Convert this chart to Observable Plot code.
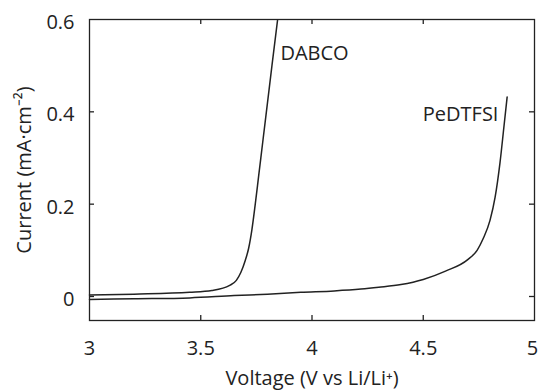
<!DOCTYPE html>
<html><head><meta charset="utf-8">
<script src="https://cdn.jsdelivr.net/npm/d3@7"></script>
<script src="https://cdn.jsdelivr.net/npm/@observablehq/plot@0.6"></script>
<style>body{margin:0;background:#fff}</style>
</head><body><div id="chart"></div>
<script>
// DABCO curve
const dabcoV = [3.0, 3.2, 3.45, 3.55, 3.63, 3.66, 3.68, 3.70, 3.715, 3.73, 3.745, 3.76, 3.78, 3.80, 3.82, 3.845];
const dabcoI = [0.003, 0.005, 0.009, 0.013, 0.024, 0.035, 0.052, 0.078, 0.104, 0.145, 0.2, 0.26, 0.34, 0.42, 0.5, 0.598];
// PeDTFSI curve
const pedV = [3.0, 3.2, 3.45, 3.65, 3.8, 3.95, 4.1, 4.22, 4.3, 4.4, 4.5, 4.6, 4.7, 4.742, 4.77, 4.8, 4.823, 4.845, 4.862, 4.877];
const pedI = [-0.0065, -0.005, -0.003, 0.002, 0.005, 0.009, 0.012, 0.016, 0.02, 0.026, 0.037, 0.055, 0.08, 0.1, 0.126, 0.165, 0.215, 0.29, 0.365, 0.432];
// Labels
const seriesNames = ["DABCO", "PeDTFSI"];
const labelV = [3.858, 4.838];
const labelI = [0.527, 0.394];
// Ticks
const xTicks = [3, 3.5, 4, 4.5, 5];
const yTicks = [0, 0.2, 0.4, 0.6];
const xDomain = [3, 5];
const yDomain = [-0.052, 0.6];
const xLabel = "Voltage (V vs Li/Li⁺)";
const yLabel = "Current (mA·cm⁻²)";

const dabco = dabcoV.map((v, i) => ({v, c: dabcoI[i]}));
const ped = pedV.map((v, i) => ({v, c: pedI[i]}));
const labels = seriesNames.map((name, i) => ({name, v: labelV[i], c: labelI[i]}));

const W = 538, H = 392, mL = 89, mR = 4, mT = 19, mB = 72;
const frameW = W - mL - mR, frameH = H - mT - mB, tick = 5;
const ink = "#222";
const fs = 20;

const chart = Plot.plot({
  width: W, height: H,
  marginLeft: mL, marginRight: mR, marginTop: mT, marginBottom: mB,
  style: {fontFamily: "'Open Sans', sans-serif", fontSize: fs + "px", color: ink, background: "#fff"},
  x: {domain: xDomain},
  y: {domain: yDomain},
  marks: [
    Plot.frame({stroke: ink, strokeWidth: 1.3}),
    Plot.ruleX(xTicks.slice(1, -1), {insetTop: frameH - tick, stroke: ink, strokeWidth: 1.3}),
    Plot.ruleX(xTicks.slice(1, -1), {insetBottom: frameH - tick, stroke: ink, strokeWidth: 1.3}),
    Plot.ruleY(yTicks.slice(0, -1), {insetRight: frameW - tick, stroke: ink, strokeWidth: 1.3}),
    Plot.ruleY(yTicks.slice(0, -1), {insetLeft: frameW - tick, stroke: ink, strokeWidth: 1.3}),
    Plot.axisX(xTicks.slice(0, -1), {tickSize: 0, tickPadding: 20, tickFormat: d => String(d), label: xLabel, labelAnchor: "center", labelArrow: "none", labelOffset: 64, fontSize: fs}),
    Plot.axisX(xTicks.slice(-1), {tickSize: 0, tickPadding: 20, tickFormat: d => String(d), label: null, dx: -2, fontSize: fs}),
    Plot.axisY(yTicks, {tickSize: 0, tickPadding: 15, tickFormat: d => String(d), label: yLabel, labelAnchor: "center", labelArrow: "none", labelOffset: 73, dy: 3, fontSize: fs}),
    Plot.line(dabco, {x: "v", y: "c", stroke: ink, strokeWidth: 1.5, curve: "monotone-x"}),
    Plot.line(ped, {x: "v", y: "c", stroke: ink, strokeWidth: 1.5, curve: "monotone-x"}),
    Plot.text(labels.slice(0, 1), {x: "v", y: "c", text: "name", textAnchor: "start", fontSize: fs, fill: ink}),
    Plot.text(labels.slice(1), {x: "v", y: "c", text: "name", textAnchor: "end", fontSize: fs, fill: ink})
  ]
});
document.getElementById("chart").appendChild(chart);
</script>
</body></html>
